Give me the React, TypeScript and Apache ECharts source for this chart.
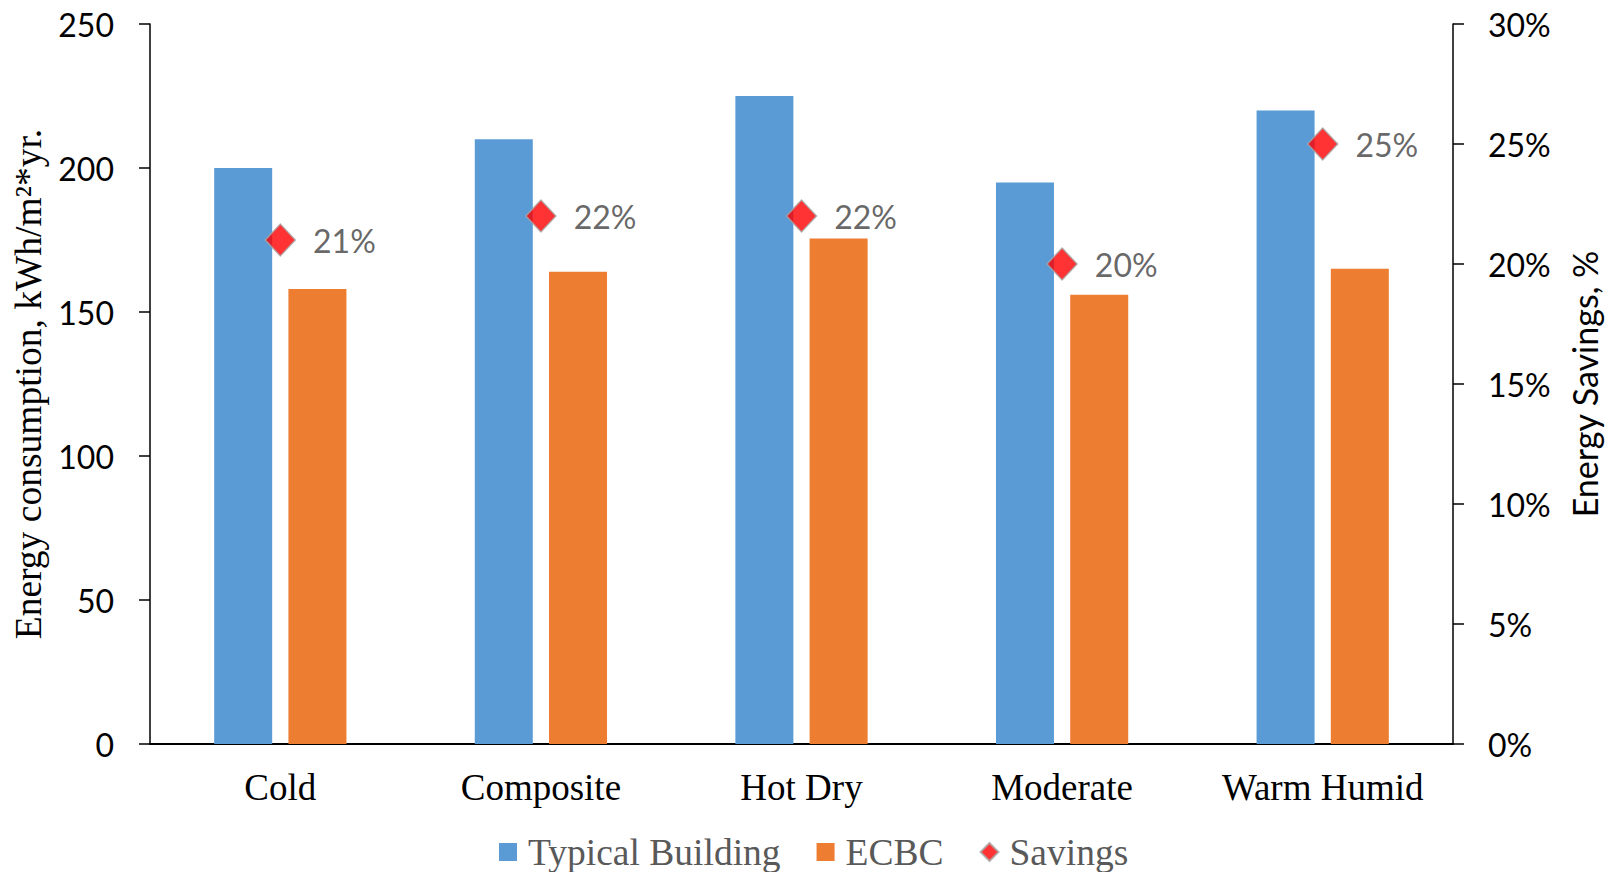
import React, { useEffect, useRef } from "react";
import * as echarts from "echarts";

// Climate zones and annual energy use per m² (kWh/m²·yr)
const zones = ["Cold", "Composite", "Hot Dry", "Moderate", "Warm Humid"];
const typicalBuilding = [200, 210, 225, 195, 220];
const ecbc = [158, 164, 175.5, 156, 165];
// Energy savings of the ECBC design, in percent
const savings = [21, 22, 22, 20, 25];

const leftTicks = { min: 0, max: 250, interval: 50 };
const rightTicks = { min: 0, max: 30, interval: 5 };

const SANS = "Lato, 'Open Sans', sans-serif";
const SERIF = "'Liberation Serif', 'Times New Roman', serif";

export default function App() {
  const ref = useRef<HTMLDivElement>(null);

  useEffect(() => {
    document.body.style.margin = "0";
    if (!ref.current) return;
    const chart = echarts.init(ref.current, undefined, { renderer: "svg" });

    const axisLine = { show: true, lineStyle: { color: "#000", width: 1.5 } };

    chart.setOption({
      animation: false,
      backgroundColor: "#fff",
      grid: { left: 150, right: 163, top: 24, bottom: 128, containLabel: false },
      legend: {
        top: 828,
        left: 494,
        itemWidth: 18,
        itemHeight: 18,
        itemGap: 36,
        textStyle: { fontFamily: SERIF, fontSize: 37.5, color: "#595959", padding: [0, 0, 0, 6] },
        data: [
          { name: "Typical Building", icon: "rect" },
          { name: "ECBC", icon: "rect" },
          { name: "Savings" },
        ],
      },
      xAxis: {
        type: "category",
        data: zones,
        axisLine: { show: true, lineStyle: { color: "#000", width: 2 } },
        axisTick: { show: false },
        axisLabel: { interval: 0, fontFamily: SERIF, fontSize: 37, color: "#000", margin: 25 },
      },
      yAxis: [
        {
          type: "value",
          ...leftTicks,
          position: "left",
          name: "Energy consumption, kWh/m²*yr.",
          nameLocation: "middle",
          nameRotate: 90,
          nameGap: 100,
          nameTextStyle: { fontFamily: SERIF, fontSize: 37.5, color: "#000" },
          axisLine,
          axisTick: { show: true, length: 11, lineStyle: { color: "#000", width: 1.5 } },
          axisLabel: { fontFamily: SANS, fontSize: 32, color: "#000", margin: 36 },
          splitLine: { show: false },
        },
        {
          type: "value",
          ...rightTicks,
          position: "right",
          name: "Energy Savings, %",
          nameLocation: "middle",
          nameRotate: 90,
          nameGap: 114,
          nameTextStyle: { fontFamily: SANS, fontSize: 34, color: "#000" },
          axisLine,
          axisTick: { show: true, length: 11, lineStyle: { color: "#000", width: 1.5 } },
          axisLabel: { fontFamily: SANS, fontSize: 32, color: "#000", margin: 35, formatter: "{value}%" },
          splitLine: { show: false },
        },
      ],
      series: [
        {
          name: "Typical Building",
          type: "bar",
          data: typicalBuilding,
          barWidth: 58,
          barGap: "28%",
          itemStyle: { color: "#5B9BD5" },
        },
        {
          name: "ECBC",
          type: "bar",
          data: ecbc,
          barWidth: 58,
          barGap: "28%",
          itemStyle: { color: "#ED7D31" },
        },
        {
          name: "Savings",
          type: "scatter",
          yAxisIndex: 1,
          data: savings,
          symbol: "diamond",
          symbolSize: [30, 32],
          z: 5,
          itemStyle: { color: "#FF0000", borderColor: "#A6A6A6", borderWidth: 1.5 },
          label: {
            show: true,
            position: "right",
            distance: 17,
            formatter: "{c}%",
            fontFamily: SANS,
            fontSize: 32,
            color: "#404040",
          },
        },
      ],
    });

    return () => chart.dispose();
  }, []);

  return <div ref={ref} style={{ width: 1616, height: 872 }} />;
}
